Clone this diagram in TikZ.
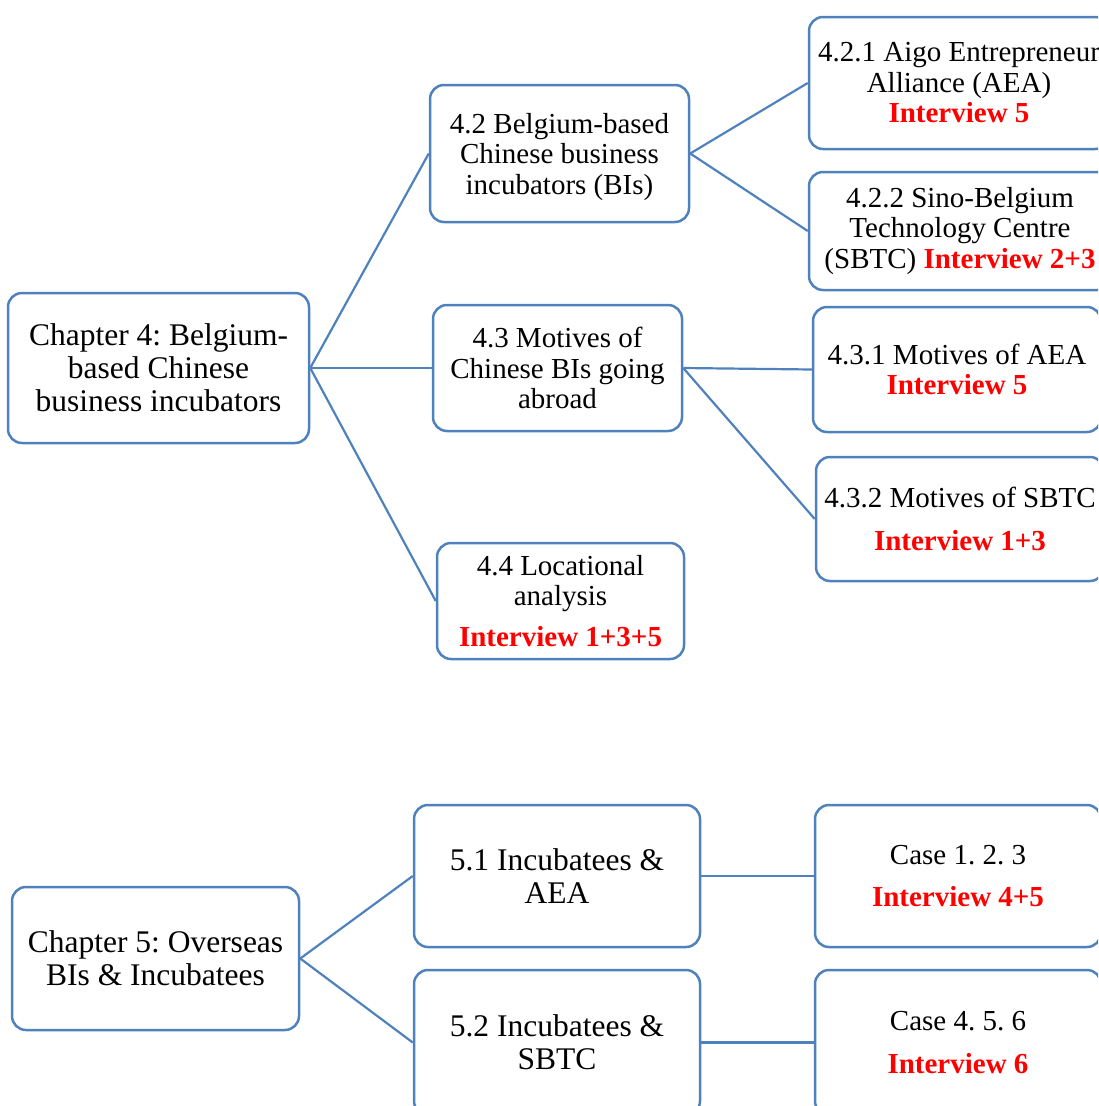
\documentclass[tikz,border=0pt]{standalone}
\usepackage{fontspec}
\setmainfont{Liberation Serif}
\frenchspacing
\definecolor{boxblue}{RGB}{79,129,189}
\definecolor{ivred}{RGB}{255,0,0}
\newcommand{\iv}[1]{\textcolor{ivred}{\textbf{#1}}}
\begin{document}
\begin{tikzpicture}[x=1pt,y=-1pt,
  box/.style={draw=boxblue,line width=2.5pt,rounded corners=14pt,fill=white,
    align=center,inner sep=0pt,font=\fontsize{29}{30.5}\selectfont\frenchspacing},
  bigbox/.style={box,font=\fontsize{31.5}{33}\selectfont\frenchspacing},
  link/.style={draw=boxblue,line width=2.2pt}]
\useasboundingbox (0,0) rectangle (1098,1106);
\clip (0,0) rectangle (1098,1106);
% Chapter 4
\node[bigbox,minimum width=301pt,minimum height=150pt] (ch4) at (158.5,368)
  {Chapter 4: Belgium-\\based Chinese\\business incubators};
\node[box,minimum width=259pt,minimum height=137pt] (b42) at (559.5,153.5)
  {\rule{0pt}{27pt}4.2 Belgium-based\\Chinese business\\incubators (BIs)};
\node[box,minimum width=249pt,minimum height=126pt] (b43) at (557.5,368)
  {4.3 Motives of\\Chinese BIs going\\abroad};
\node[box,minimum width=247pt,minimum height=116pt] (b44) at (560.5,601)
  {4.4 Locational\\analysis\\[10pt]\iv{Interview 1+3+5}};
\node[box,minimum width=300pt,minimum height=132pt] (b421) at (959,83)
  {4.2.1 Aigo Entrepreneur\\Alliance (AEA)\\\iv{Interview 5}};
\node[box,minimum width=302pt,minimum height=118pt] (b422) at (960,231)
  {4.2.2 Sino-Belgium\\Technology Centre\\(SBTC) \iv{Interview 2+3}};
\node[box,minimum width=288pt,minimum height=125pt] (b431) at (957,369.5)
  {4.3.1 Motives of AEA\\\iv{Interview 5}};
\node[box,minimum width=288pt,minimum height=124pt] (b432) at (960,519)
  {4.3.2 Motives of SBTC\\[12pt]\iv{Interview 1+3}};
\draw[link] (ch4.east) -- (b42.west);
\draw[link] (ch4.east) -- (b43.west);
\draw[link] (ch4.east) -- (b44.west);
\draw[link] (b42.east) -- (b421.west);
\draw[link] (b42.east) -- (b422.west);
\draw[link] (b43.east) -- (b431.west);
\draw[link] (b43.east) -- (b432.west);
% Chapter 5
\node[bigbox,minimum width=287pt,minimum height=143pt] (ch5) at (155.5,958.5)
  {Chapter 5: Overseas\\BIs \& Incubatees};
\node[bigbox,minimum width=286pt,minimum height=142pt] (b51) at (557,876)
  {5.1 Incubatees \&\\AEA};
\node[bigbox,minimum width=286pt,minimum height=145pt] (b52) at (557,1042.5)
  {5.2 Incubatees \&\\SBTC};
\node[box,minimum width=286pt,minimum height=142pt] (c1) at (958,876)
  {Case 1. 2. 3\\[12pt]\iv{Interview 4+5}};
\node[box,minimum width=286pt,minimum height=145pt] (c2) at (958,1042.5)
  {Case 4. 5. 6\\[12pt]\iv{Interview 6}};
\draw[link] (ch5.east) -- (b51.west);
\draw[link] (ch5.east) -- (b52.west);
\draw[link] (b51.east) -- (c1.west);
\draw[link] (b52.east) -- (c2.west);
\end{tikzpicture}
\end{document}
